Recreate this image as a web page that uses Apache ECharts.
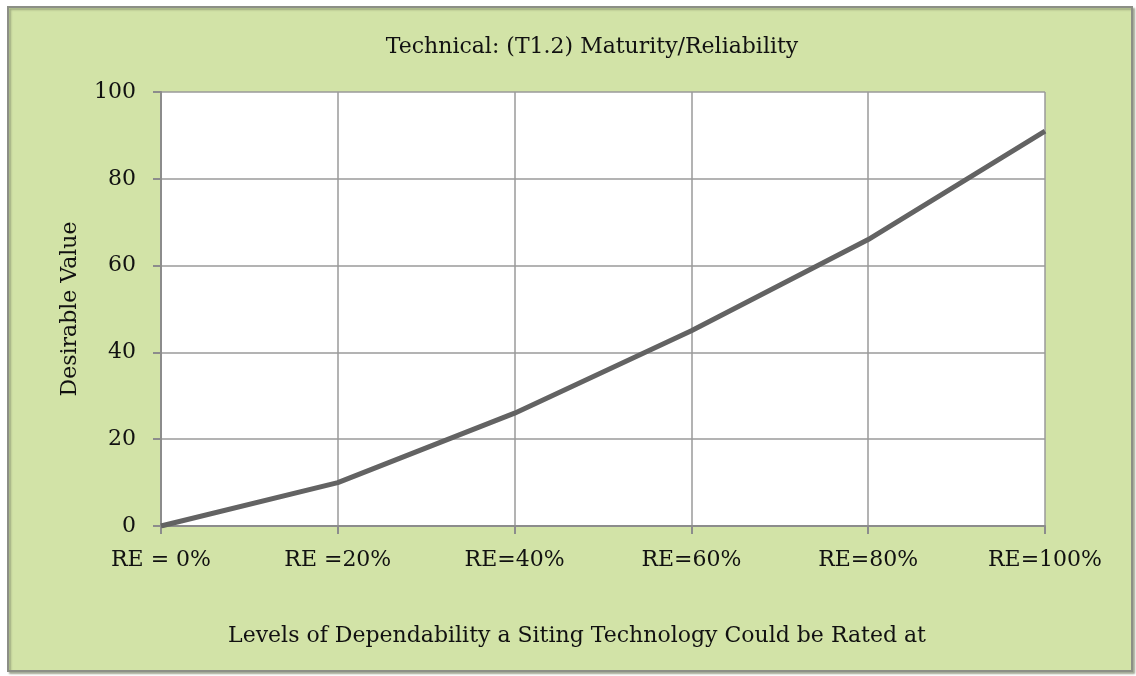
<!DOCTYPE html>
<html>
<head>
<meta charset="utf-8">
<script src="https://cdn.jsdelivr.net/npm/echarts@6/dist/echarts.min.js"></script>
<style>
html, body { margin: 0; padding: 0; background: #fff; overflow: hidden; }
#chart { width: 1136px; height: 676px; }
</style>
</head>
<body>
<div id="chart"></div>
<script>
// chart data
var categories = ['RE = 0%', 'RE =20%', 'RE=40%', 'RE=60%', 'RE=80%', 'RE=100%'];
var desirableValues = [0, 10, 26, 45, 66, 91];
var chartTitle = 'Technical: (T1.2) Maturity/Reliability';
var xAxisName = 'Levels of Dependability a Siting Technology Could be Rated at';
var yAxisName = 'Desirable Value';

var fontFam = 'DejaVu Serif';
var chart = echarts.init(document.getElementById('chart'));
chart.setOption({
    backgroundColor: '#fff',
    animation: false,
    graphic: [{
        type: 'rect',
        z: -10,
        shape: { x: 8, y: 7, width: 1124, height: 664 },
        style: { fill: '#d2e3a7', stroke: '#8c8f86', lineWidth: 2,
                 shadowColor: 'rgba(120,130,100,0.6)', shadowBlur: 2, shadowOffsetX: 2, shadowOffsetY: 2 }
    }],
    title: {
        text: chartTitle,
        left: 587,
        textAlign: 'center',
        top: 31,
        textStyle: { fontFamily: fontFam, fontSize: 22, fontWeight: 'normal', color: '#111' }
    },
    grid: { left: 161, right: 91, top: 92, bottom: 150, backgroundColor: '#fff', show: true,
            borderWidth: 0, outerBoundsMode: 'none' },
    xAxis: {
        type: 'category',
        data: categories,
        boundaryGap: false,
        name: xAxisName,
        nameLocation: 'middle',
        nameGap: 99,
        nameTextStyle: { fontFamily: fontFam, fontSize: 22, color: '#111', padding: [0, 0, 0, -52] },
        axisLine: { lineStyle: { color: '#8c8c8c', width: 2 } },
        axisTick: { show: true, length: 8, lineStyle: { color: '#8c8c8c', width: 2 } },
        axisLabel: { fontFamily: fontFam, fontSize: 22, color: '#111', margin: 23 },
        splitLine: { show: true, lineStyle: { color: '#9a9a9a', width: 1.5 } }
    },
    yAxis: {
        type: 'value',
        min: 0,
        max: 100,
        interval: 20,
        name: yAxisName,
        nameLocation: 'middle',
        nameGap: 80,
        nameTextStyle: { fontFamily: fontFam, fontSize: 22, color: '#111' },
        axisLine: { show: true, lineStyle: { color: '#8c8c8c', width: 2 } },
        axisTick: { show: true, length: 8, lineStyle: { color: '#8c8c8c', width: 2 } },
        axisLabel: { fontFamily: fontFam, fontSize: 22, color: '#111', margin: 25 },
        splitLine: { show: true, lineStyle: { color: '#9a9a9a', width: 1.5 } }
    },
    series: [{
        type: 'line',
        data: desirableValues,
        symbol: 'none',
        lineStyle: { color: '#636363', width: 5 }
    }]
});
</script>
</body>
</html>
